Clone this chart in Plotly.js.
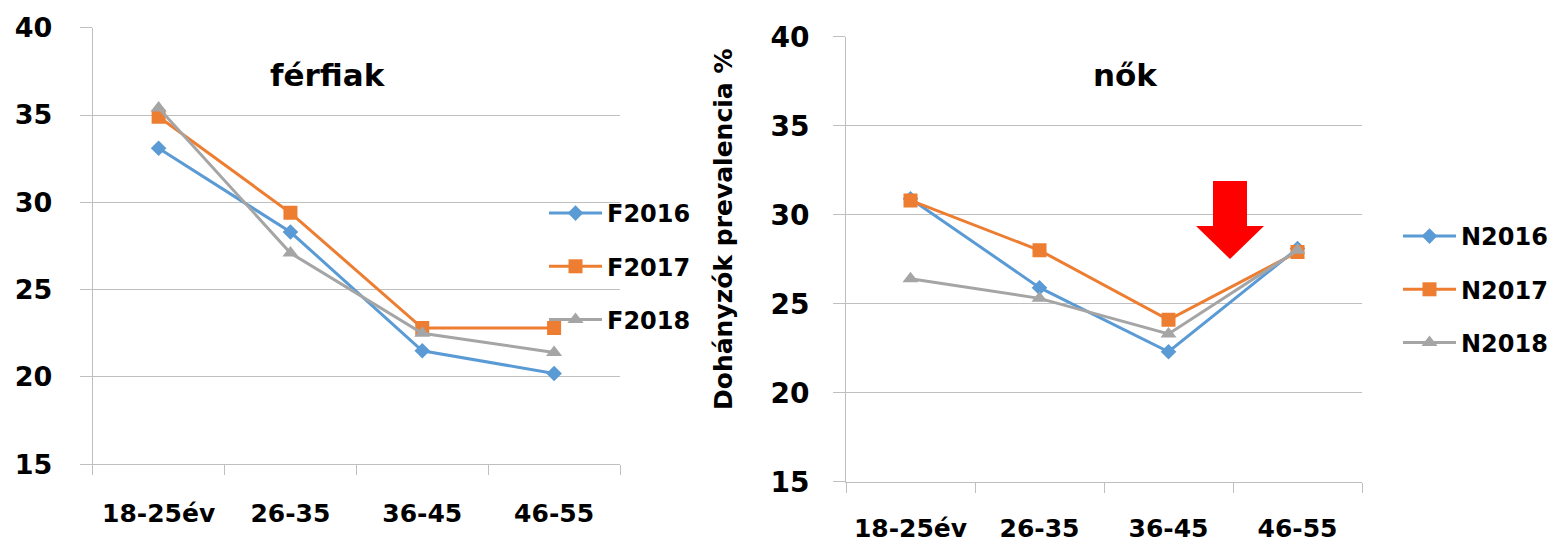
<!DOCTYPE html>
<html>
<head>
<meta charset="utf-8">
<script src="https://cdn.plot.ly/plotly-3.0.1.min.js"></script>
<style>html,body{margin:0;padding:0;background:#fff;}#chart{width:1560px;height:543px;}</style>
</head>
<body>
<div id="chart"></div>
<script>
// ---- data ----
const categories = ["18-25év", "26-35", "36-45", "46-55"];
const F2016 = [33.1, 28.3, 21.5, 20.2];
const F2017 = [34.9, 29.4, 22.8, 22.8];
const F2018 = [35.4, 27.1, 22.5, 21.4];
const N2016 = [30.9, 25.9, 22.3, 28.1];
const N2017 = [30.8, 28.0, 24.1, 27.9];
const N2018 = [26.4, 25.3, 23.3, 28.0];
const seriesNamesF = ["F2016", "F2017", "F2018"];
const seriesNamesN = ["N2016", "N2017", "N2018"];
const yTicks = [15, 20, 25, 30, 35, 40];
const titleLeft = "férfiak";
const titleRight = "nők";
const yTitle = "Dohányzók prevalencia %";

// ---- style ----
const W = 1560, H = 543;
const FONT = "DejaVu Sans, Arial, sans-serif";
const grid = "#bfbfbf";
const colors = ["#5B9BD5", "#ED7D31", "#A5A5A5"];
const symbols = ["diamond", "square", "triangle-up"];
const msizes = [12, 14, 14];
const px = v => v / W;
const py = v => 1 - v / H;

function mk(name, y, i, xa, ya, leg) {
  return {
    type: "scatter", mode: "lines+markers", name: name,
    x: categories, y: y, xaxis: xa, yaxis: ya, legend: leg,
    legendgroup: name,
    line: {color: colors[i], width: 3},
    marker: {color: colors[i], symbol: symbols[i], size: msizes[i]}
  };
}
const traces = [
  mk(seriesNamesF[0], F2016, 0, "x", "y", "legend"),
  mk(seriesNamesF[1], F2017, 1, "x", "y", "legend"),
  mk(seriesNamesF[2], F2018, 2, "x", "y", "legend"),
  mk(seriesNamesN[0], N2016, 0, "x2", "y2", "legend2"),
  mk(seriesNamesN[1], N2017, 1, "x2", "y2", "legend2"),
  mk(seriesNamesN[2], N2018, 2, "x2", "y2", "legend2")
];

function xax(d0, d1, anchor, standoff) {
  return {
    domain: [px(d0), px(d1)], anchor: anchor, type: "category",
    range: [-0.5, 3.5], showgrid: false, showline: true, linecolor: grid, linewidth: 1,
    ticks: "outside", tickson: "boundaries", ticklen: 10, tickcolor: grid, tickwidth: 1,
    tickfont: {family: FONT, size: 25, color: "#000", weight: "bold"},
    ticklabelstandoff: standoff, automargin: false, fixedrange: true
  };
}
function yax(top, bot, anchor, fs, standoff) {
  return {
    domain: [py(bot), py(top)], anchor: anchor, range: [15, 40],
    tickvals: yTicks, showgrid: true, gridcolor: grid, gridwidth: 1,
    showline: true, linecolor: grid, linewidth: 1, zeroline: false,
    ticks: "outside", ticklen: 12, tickcolor: grid, tickwidth: 1,
    tickfont: {family: FONT, size: fs, color: "#000", weight: "bold"},
    ticklabelstandoff: standoff, automargin: false, fixedrange: true
  };
}

const arrow = [[1213,181],[1247,181],[1247,226],[1264,226],[1230,259],[1196,226],[1213,226]];
const arrowPath = "M" + arrow.map(p => px(p[0]).toFixed(5) + "," + py(p[1]).toFixed(5)).join(" L") + " Z";

const legendBase = {
  font: {family: FONT, size: 24, color: "#000", weight: "bold"},
  bgcolor: "rgba(0,0,0,0)", borderwidth: 0,
  traceorder: "grouped", tracegroupgap: 19, itemwidth: 53,
  xanchor: "left", yanchor: "top"
};

const layout = {
  width: W, height: H,
  margin: {l: 0, r: 0, t: 0, b: 0},
  paper_bgcolor: "#fff", plot_bgcolor: "rgba(0,0,0,0)",
  xaxis: xax(92.7, 620, "y", 27),
  yaxis: yax(27.7, 464.3, "x", 27, 22),
  xaxis2: xax(846, 1362, "y2", 24),
  yaxis2: yax(36.7, 481.7, "x2", 28, 18),
  legend: Object.assign({}, legendBase, {x: px(544), y: py(191)}),
  legend2: Object.assign({}, legendBase, {x: px(1398), y: py(214)}),
  annotations: [
    {text: titleLeft, xref: "paper", yref: "paper", x: px(328), y: py(75), showarrow: false,
     font: {family: FONT, size: 31, color: "#000", weight: "bold"}, xanchor: "center", yanchor: "middle"},
    {text: titleRight, xref: "paper", yref: "paper", x: px(1125), y: py(75), showarrow: false,
     font: {family: FONT, size: 31, color: "#000", weight: "bold"}, xanchor: "center", yanchor: "middle"},
    {text: yTitle, xref: "paper", yref: "paper", x: px(723), y: py(230), showarrow: false, textangle: -90,
     font: {family: FONT, size: 25, color: "#000", weight: "bold"}, xanchor: "center", yanchor: "middle"}
  ],
  shapes: [
    {type: "path", xref: "paper", yref: "paper", path: arrowPath, fillcolor: "#FF0000", line: {width: 0}, layer: "above"}
  ]
};

Plotly.newPlot("chart", traces, layout, {displayModeBar: false, staticPlot: true});
</script>
</body>
</html>
